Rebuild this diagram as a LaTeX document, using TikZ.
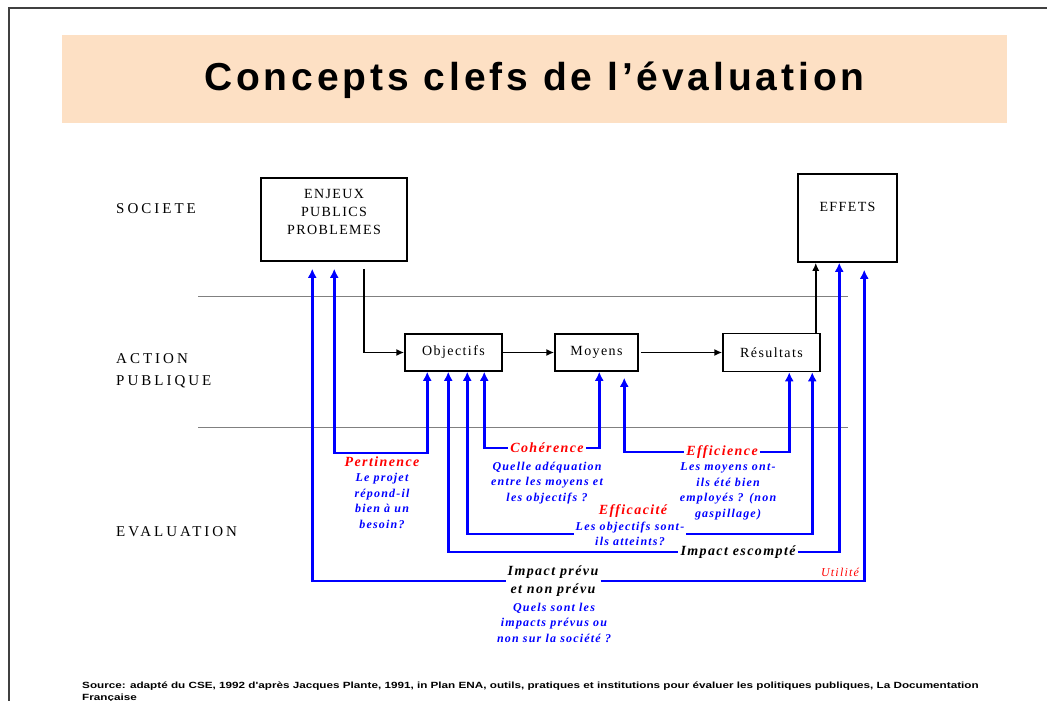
\documentclass[tikz,border=0pt]{standalone}
\usepackage{fontspec}
\setmainfont{Liberation Serif}
\newfontfamily\titlefont[LetterSpace=10]{Liberation Sans}
\newfontfamily\srcfont[FakeStretch=1.3]{Liberation Sans}
\newfontfamily\rowfont[LetterSpace=20]{Liberation Serif}
\newfontfamily\boxfont[LetterSpace=10]{Liberation Serif}
\newfontfamily\critfont[LetterSpace=10]{Liberation Serif}
\usetikzlibrary{shapes,arrows.meta,positioning}
\definecolor{peach}{RGB}{253,224,196}
\tikzstyle{block} = [rectangle, draw, line width=1.5pt, inner sep=0, text centered, font=\boxfont\fontsize{14}{18}\selectfont]
\tikzstyle{boxtext} = [inner sep=0, align=center, font=\boxfont\fontsize{14}{18}\selectfont]
\tikzstyle{rowlabel} = [anchor=west, inner sep=0, align=left, font=\rowfont\fontsize{15}{22}\selectfont]
\tikzstyle{crit} = [text=red, inner sep=2, font=\critfont\bfseries\itshape\fontsize{14}{16}\selectfont]
\tikzstyle{question} = [text=blue, inner sep=0, align=center, font=\critfont\bfseries\itshape\fontsize{12}{15.5}\selectfont]
\tikzstyle{impact} = [inner sep=2, align=center, font=\critfont\bfseries\itshape\fontsize{14}{18}\selectfont]
\tikzstyle{line} = [draw, line width=1.6pt, -{Latex[length=8pt,width=7pt]}]
\tikzstyle{evalline} = [draw, blue, line width=2.5pt]
\tikzstyle{tipend} = [-{Latex[length=9pt,width=9pt]}]
\tikzstyle{tipstart} = [{Latex[length=9pt,width=9pt]}-]
\tikzstyle{tipboth} = [{Latex[length=9pt,width=9pt]}-{Latex[length=9pt,width=9pt]}]
\tikzstyle{sep} = [draw, black!50, line width=1pt]

\begin{document}
\begin{tikzpicture}[x=1pt,y=-1pt]
\useasboundingbox (0,0) rectangle (1047,701);
\draw[line width=2pt, black!75] (9,701) -- (9,8) -- (1047,8);

% title
\node[fill=peach, minimum width=945, minimum height=88, inner sep=0] (banner) at (534.5,79) {};
\node[font=\titlefont\bfseries\fontsize{39}{40}\selectfont] (title) at (534.5,80) {Concepts clefs de l’évaluation};

% levels
\node[rowlabel] (societe) at (116,209) {SOCIETE};
\node[rowlabel] (action) at (116,371) {ACTION\\PUBLIQUE};
\node[rowlabel] (evaluation) at (116,532) {EVALUATION};
\path[sep] (198,296) -- (848,296);
\path[sep] (198,427) -- (848,427);

% boxes
\node[block, minimum width=146, minimum height=83] (enjeux) at (334,219.5) {};
\node[boxtext] (enjeuxtext) at ([yshift=8]enjeux.center) {ENJEUX\\PUBLICS\\PROBLEMES};
\node[block, minimum width=99, minimum height=88] (effets) at (847.5,218) {};
\node[boxtext] (effetstext) at ([yshift=11]effets.center) {EFFETS};
\node[block, minimum width=97, minimum height=37] (objectifs) at (453.5,352.5) {Objectifs};
\node[block, minimum width=83, minimum height=37, right of=objectifs, node distance=143pt] (moyens) {Moyens};
\node[block, minimum width=97, minimum height=38, right of=moyens, node distance=175pt] (resultats) {Résultats};

% feet of the arrows
\coordinate (en1) at ([shift={(52,7)}]enjeux.south west);
\coordinate (en2) at ([shift={(74,7)}]enjeux.south west);
\coordinate (en3) at ([shift={(104,7)}]enjeux.south west);
\coordinate (ob1) at ([xshift=23]objectifs.south west);
\coordinate (ob2) at ([xshift=44]objectifs.south west);
\coordinate (ob3) at ([xshift=63]objectifs.south west);
\coordinate (ob4) at ([xshift=80]objectifs.south west);
\coordinate (mo1) at ([xshift=45]moyens.south west);
\coordinate (mo2) at ([shift={(70,6)}]moyens.south west);
\coordinate (re1) at ([xshift=67]resultats.south west);
\coordinate (re2) at ([xshift=90]resultats.south west);
\coordinate (reup) at ([xshift=-5]resultats.north east);
\coordinate (ef2) at ([xshift=42]effets.south west);
\coordinate (ef3) at ([shift={(67,7)}]effets.south west);

% action chain
\path[line] (en3) |- (objectifs);
\path[line] (objectifs) -- (moyens);
\path[line] ([xshift=2]moyens.east) -- (resultats);
\path[line] (reup) -- (reup |- effets.south);

% criteria
\coordinate (pertbar) at (382,453);
\node[crit] (pertinence) at (382,462) {Pertinence};
\node[question, below of=pertinence, node distance=39pt] (pertq) {Le projet\\répond-il\\bien à un\\besoin?};
\path[evalline, tipboth] (en2) |- (pertbar) -| (ob1);

\node[crit] (coherence) at (547,448) {Cohérence};
\node[question, below of=coherence, node distance=35pt] (coherq) {Quelle adéquation\\entre les moyens et\\les objectifs ?};
\path[evalline, tipstart] (ob4) |- (coherence);
\path[evalline, tipend] (coherence) -| (mo1);

\node[crit] (efficience) at (722,452) {Efficience};
\node[question] (efficq) at (728,491.5) {Les moyens ont-\\ils été bien\\employés ? (non\\gaspillage)};
\path[evalline, tipstart] (mo2) |- (efficience);
\path[evalline, tipend] (efficience) -| (re1);

\node[crit] (efficacite) at (633,511) {Efficacité};
\node[question, inner xsep=2] (efficaq) at (630,534) {Les objectifs sont-\\ils atteints?};
\path[evalline, tipstart] (ob3) |- (efficaq);
\path[evalline, tipend] (efficaq) -| (re2);

\node[impact] (escompte) at (738,552) {Impact escompté};
\path[evalline, tipstart] (ob2) |- (escompte);
\path[evalline, tipend] (escompte) -| (ef2);

\node[impact] (prevu) at (553,581) {Impact prévu\\et non prévu};
\node[question] (prevuq) at (554,622.5) {Quels sont les\\impacts prévus ou\\non sur la société ?};
\node[crit, font=\critfont\itshape\fontsize{12}{14}\selectfont, inner sep=0] (utilite) at (840,572) {Utilité};
\path[evalline, tipstart] (en1) |- (prevu);
\path[evalline, tipend] (prevu) -| (ef3);

% source
\node[anchor=north west, align=left, inner sep=0, font=\srcfont\bfseries\fontsize{9}{12}\selectfont] (source) at (82,682) {Source: adapté du CSE, 1992 d'après Jacques Plante, 1991, in Plan ENA, outils, pratiques et institutions pour évaluer les politiques publiques, La Documentation\\Française};
\end{tikzpicture}
\end{document}
